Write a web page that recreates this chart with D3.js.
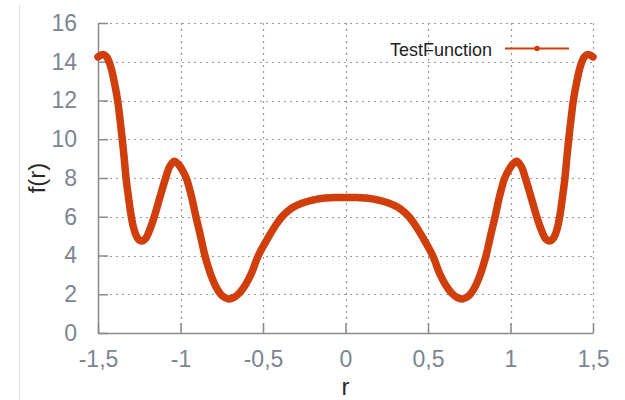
<!DOCTYPE html>
<html>
<head>
<meta charset="utf-8">
<script src="https://cdn.jsdelivr.net/npm/d3@7"></script>
<style>
  html, body { margin: 0; padding: 0; background: #ffffff; }
  svg { display: block; font-family: "Liberation Sans", Arial, sans-serif; }
</style>
</head>
<body>
<svg id="chart" width="625" height="400"></svg>
<script>
// Sampled points of the test function f(r), left half (r <= 0)
const rLeft = [
  -1.5, -1.47, -1.45, -1.435, -1.418, -1.4, -1.381, -1.367, -1.353, -1.341,
  -1.33, -1.315, -1.3, -1.285, -1.27, -1.253, -1.235, -1.212, -1.19, -1.159,
  -1.125, -1.09, -1.065, -1.038, -1.01, -0.985, -0.963, -0.935, -0.909, -0.88,
  -0.852, -0.815, -0.78, -0.745, -0.71, -0.675, -0.64, -0.605, -0.57, -0.528,
  -0.46, -0.42, -0.39, -0.355, -0.315, -0.265, -0.205, -0.135, -0.065, 0
];
const fLeft = [
  14.25, 14.38, 14.28, 14.05, 13.6, 12.9, 12.0, 11.05, 10.0, 9.0,
  8.0, 7.0, 6.1, 5.45, 5.05, 4.82, 4.75, 4.87, 5.25, 6.0,
  7.0, 8.0, 8.6, 8.86, 8.68, 8.35, 7.95, 7.1, 6.1, 5.05,
  4.0, 2.98, 2.3, 1.9, 1.76, 1.84, 2.09, 2.5, 3.08, 4.0,
  5.05, 5.6, 5.95, 6.25, 6.5, 6.7, 6.85, 6.95, 6.99, 7.0
];
// right half (r > 0), the mirror image of the left half
const rRight = [
  0.065, 0.135, 0.205, 0.265, 0.315, 0.355, 0.39, 0.42, 0.46, 0.528,
  0.57, 0.605, 0.64, 0.675, 0.71, 0.745, 0.78, 0.815, 0.852, 0.88,
  0.909, 0.935, 0.963, 0.985, 1.01, 1.038, 1.065, 1.09, 1.125, 1.159,
  1.19, 1.212, 1.235, 1.253, 1.27, 1.285, 1.3, 1.315, 1.33, 1.341,
  1.353, 1.367, 1.381, 1.4, 1.418, 1.435, 1.45, 1.47, 1.5
];
const fRight = [
  6.99, 6.95, 6.85, 6.7, 6.5, 6.25, 5.95, 5.6, 5.05, 4.0,
  3.08, 2.5, 2.09, 1.84, 1.76, 1.9, 2.3, 2.98, 4.0, 5.05,
  6.1, 7.1, 7.95, 8.35, 8.68, 8.86, 8.6, 8.0, 7.0, 6.0,
  5.25, 4.87, 4.75, 4.82, 5.05, 5.45, 6.1, 7.0, 8.0, 9.0,
  10.0, 11.05, 12.0, 12.9, 13.6, 14.05, 14.28, 14.38, 14.25
];

const xTicks = [-1.5, -1, -0.5, 0, 0.5, 1, 1.5];
const xTickLabels = ["-1,5", "-1", "-0,5", "0", "0,5", "1", "1,5"];
const yTicks = [0, 2, 4, 6, 8, 10, 12, 14, 16];
const yTickLabels = ["0", "2", "4", "6", "8", "10", "12", "14", "16"];
const seriesName = "TestFunction";

const rValues = rLeft.concat(rRight);
const fValues = fLeft.concat(fRight);

const svg = d3.select("#chart");
const plot = { left: 98, right: 593, top: 23, bottom: 333 };

const x = d3.scaleLinear().domain([-1.5, 1.5]).range([plot.left, plot.right]);
const y = d3.scaleLinear().domain([0, 16]).range([plot.bottom, plot.top]);

const gridColor = "#9a9a9a";
const axisColor = "#8a8a8a";
const tickTextColor = "#7c8592";
const curveColor = "#cf3e0b";

// faint frame line at the left edge
svg.append("line")
  .attr("x1", 19.5).attr("x2", 19.5).attr("y1", 5).attr("y2", 400)
  .attr("stroke", "#e2e2e2").attr("stroke-width", 1);

// dotted grid
const grid = svg.append("g");
grid.selectAll("line.gx").data(xTicks.slice(1)).join("line")
  .attr("class", "gx")
  .attr("x1", d => Math.round(x(d)) + 0.5).attr("x2", d => Math.round(x(d)) + 0.5)
  .attr("y1", plot.top).attr("y2", plot.bottom)
  .attr("stroke", gridColor).attr("stroke-width", 1.2)
  .attr("stroke-dasharray", "2,4");
grid.selectAll("line.gy").data(yTicks.slice(1)).join("line")
  .attr("class", "gy")
  .attr("x1", plot.left).attr("x2", plot.right)
  .attr("y1", d => Math.round(y(d)) + 0.5).attr("y2", d => Math.round(y(d)) + 0.5)
  .attr("stroke", gridColor).attr("stroke-width", 1.2)
  .attr("stroke-dasharray", "2,4");

// bottom axis with inward ticks
const xAxis = d3.axisBottom(x)
  .tickValues(xTicks)
  .tickSize(-10)
  .tickSizeOuter(0)
  .tickPadding(18)
  .tickFormat((d, i) => xTickLabels[i]);
const gx = svg.append("g")
  .attr("transform", `translate(0,${plot.bottom})`)
  .call(xAxis);
gx.select(".domain").attr("stroke", axisColor).attr("stroke-width", 1.5);
gx.selectAll(".tick line").attr("stroke", axisColor).attr("stroke-width", 1.5);
gx.selectAll(".tick text")
  .attr("fill", tickTextColor)
  .attr("font-size", 23)
  .attr("font-family", "Liberation Sans, Arial, sans-serif");

// left axis with inward ticks
const yAxis = d3.axisLeft(y)
  .tickValues(yTicks)
  .tickSize(-10)
  .tickSizeOuter(0)
  .tickPadding(21)
  .tickFormat((d, i) => yTickLabels[i]);
const gy = svg.append("g")
  .attr("transform", `translate(${plot.left},0)`)
  .call(yAxis);
gy.select(".domain").attr("stroke", axisColor).attr("stroke-width", 1.5);
gy.selectAll(".tick line").attr("stroke", axisColor).attr("stroke-width", 1.5);
gy.selectAll(".tick text")
  .attr("fill", tickTextColor)
  .attr("font-size", 23)
  .attr("font-family", "Liberation Sans, Arial, sans-serif");

// function curve
const line = d3.line()
  .x((d, i) => x(rValues[i]))
  .y(d => y(d))
  .curve(d3.curveCatmullRom.alpha(0.5));
svg.append("path")
  .datum(fValues)
  .attr("d", line)
  .attr("fill", "none")
  .attr("stroke", curveColor)
  .attr("stroke-width", 7.5)
  .attr("stroke-linecap", "round")
  .attr("stroke-linejoin", "round");

// axis titles
svg.append("text")
  .attr("x", (plot.left + plot.right) / 2)
  .attr("y", 395)
  .attr("text-anchor", "middle")
  .attr("font-size", 24)
  .attr("fill", "#2a2a2a")
  .text("r");
svg.append("text")
  .attr("transform", `translate(45,${(plot.top + plot.bottom) / 2}) rotate(-90)`)
  .attr("text-anchor", "middle")
  .attr("font-size", 24)
  .attr("fill", "#2a2a2a")
  .text("f(r)");

// legend
const legend = svg.append("g");
legend.append("text")
  .attr("x", 492).attr("y", 56)
  .attr("text-anchor", "end")
  .attr("font-size", 18)
  .attr("fill", "#1e1e1e")
  .text(seriesName);
legend.append("line")
  .attr("x1", 505).attr("x2", 569).attr("y1", 48.5).attr("y2", 48.5)
  .attr("stroke", curveColor).attr("stroke-width", 2);
legend.append("circle")
  .attr("cx", 537).attr("cy", 48.5).attr("r", 2.8)
  .attr("fill", curveColor);
</script>
</body>
</html>
